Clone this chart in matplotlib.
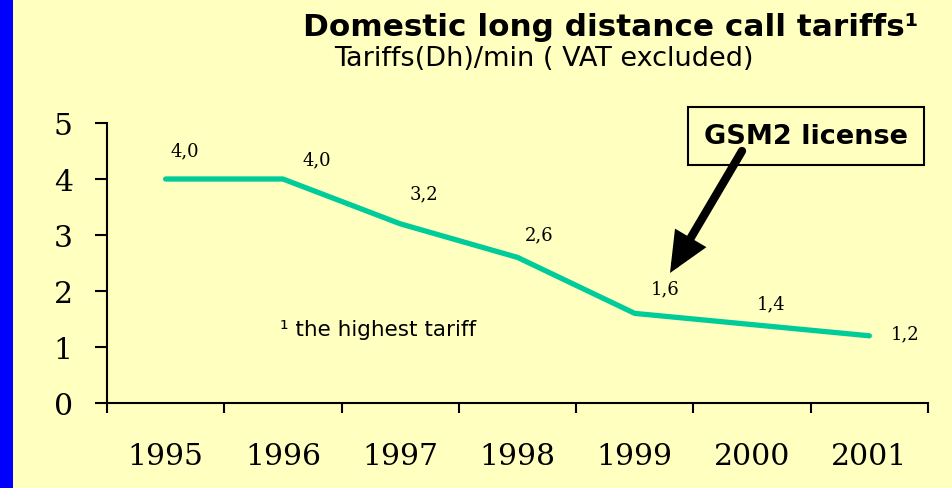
import matplotlib
matplotlib.use("Agg")
import matplotlib.pyplot as plt
from matplotlib.patches import FancyArrowPatch
import numpy as np

years = ["1995", "1996", "1997", "1998", "1999", "2000", "2001"]
tariffs = [4.0, 4.0, 3.2, 2.6, 1.6, 1.4, 1.2]
value_labels = ["4,0", "4,0", "3,2", "2,6", "1,6", "1,4", "1,2"]
yticks = [0, 1, 2, 3, 4, 5]

# label offsets in pixels (style)
label_offsets = [(19, 29), (34, 20), (24, 30), (22, 23), (30, 25), (19, 21), (36, 2)]

BG = "#FFFFC0"
LINE = "#00CC99"
SERIF = "DejaVu Serif"
SANS = "DejaVu Sans"

fig = plt.figure(figsize=(9.52, 4.89), dpi=100)
fig.patch.set_facecolor(BG)
fig.patches.append(plt.Rectangle((0, 0), 13 / 952, 1, transform=fig.transFigure,
                                 facecolor="#0000FF", edgecolor="none", zorder=0))

ax = fig.add_axes([107 / 952, (489 - 404) / 489, (928 - 107) / 952, (404 - 124) / 489])
ax.set_facecolor(BG)

x = np.arange(len(years))
ax.plot(x, tariffs, color=LINE, lw=3.8, solid_capstyle="round", solid_joinstyle="round")

px2pt = 72 / 100
for xi, yi, lab, (dx, dy) in zip(x, tariffs, value_labels, label_offsets):
    ax.annotate(lab, (xi, yi), xytext=(dx * px2pt, dy * px2pt), textcoords="offset points",
                ha="center", va="center", fontsize=13, family=SERIF)

ax.set_xlim(-0.5, len(years) - 0.5)
ax.set_ylim(0, 5)
ax.set_yticks(yticks)
ax.set_yticklabels([str(v) for v in yticks], family=SERIF, fontsize=21.5)

ax.set_xticks(np.arange(len(years) + 1) - 0.5)
ax.set_xticklabels([])
ax.set_xticks(x, minor=True)
ax.set_xticklabels(years, minor=True, family=SERIF, fontsize=21.5)
ax.tick_params(axis="x", which="major", direction="out", length=7, width=1.5)
ax.tick_params(axis="x", which="minor", length=0, pad=28)
ax.tick_params(axis="y", direction="out", length=8.6, width=1.5, pad=16)

for s in ["top", "right"]:
    ax.spines[s].set_visible(False)
for s in ["left", "bottom"]:
    ax.spines[s].set_linewidth(1.5)

# title and subtitle
fig.text(918 / 952, 1 - 28 / 489, "Domestic long distance call tariffs¹", ha="right", va="center",
         fontsize=22.4, fontweight="bold", family=SANS)
fig.text(544 / 952, 1 - 59 / 489, "Tariffs(Dh)/min ( VAT excluded)", ha="center", va="center",
         fontsize=19.5, family=SANS)

# footnote
fig.text(280 / 952, 1 - 330 / 489, "¹ the highest tariff", ha="left", va="center",
         fontsize=15.5, family=SANS)

# GSM2 license box
fig.text(806 / 952, 1 - 137 / 489, "GSM2 license", ha="center", va="center",
         fontsize=19.5, fontweight="bold", family=SANS, zorder=3,
         bbox=dict(boxstyle="square,pad=0.6", facecolor=BG, edgecolor="black", lw=1.5))

# arrow (drawn above the box)
arrow = FancyArrowPatch((742 / 952, 1 - 152 / 489), (670 / 952, 1 - 274 / 489),
                        transform=fig.transFigure,
                        arrowstyle="-|>,head_length=1.9,head_width=0.85",
                        mutation_scale=10, color="black", lw=6, joinstyle="miter",
                        shrinkA=0, shrinkB=0, zorder=5)
fig.patches.append(arrow)

fig.savefig("out.png", dpi=100, facecolor=BG)
